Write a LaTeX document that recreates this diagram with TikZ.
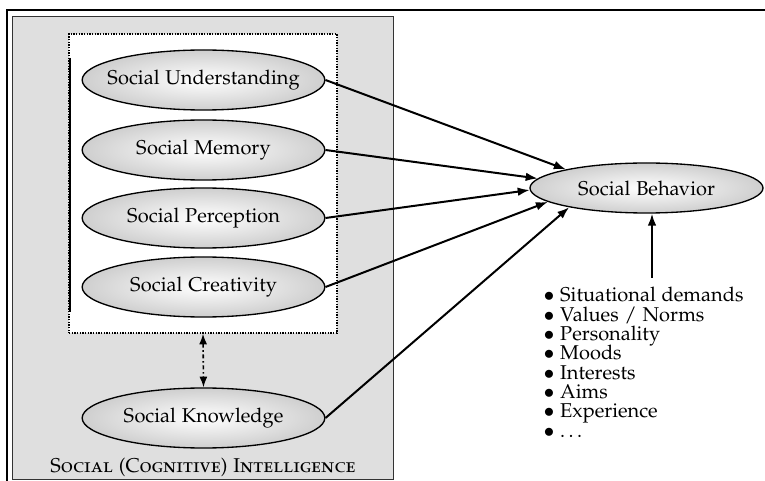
\documentclass[tikz,border=0pt]{standalone}
\usepackage[T1]{fontenc}
\usepackage[sc]{mathpazo}
\usetikzlibrary{shapes.geometric,arrows.meta}
\setlength{\lineskiplimit}{-10pt}

\tikzset{every picture/.style={line width=0.75pt}}
\tikzset{
  oval/.style={ellipse,draw,line width=1pt,inner sep=0pt,minimum width=182pt,minimum height=45pt,
    inner color=white,outer color=gray!38,label={[font=\fontsize{15}{17}\selectfont]center:#1}},
  arr/.style={-{Latex[length=9pt,width=6.5pt]},line width=1.5pt},
}

\begin{document}
\begin{tikzpicture}[x=0.75pt,y=0.75pt,yscale=-1,xscale=1]
		\useasboundingbox (0,0) rectangle (765,481);

		%outer frame
		\draw [line width=1.5pt]  (7,481) -- (7,10) -- (765,10) ;
		\node [draw=black!80,fill=gray!25,line width=0.75pt,minimum width=285.75pt,minimum height=346.5pt,inner sep=0pt] (frame) at (202.5,248) {};
		\node [draw,densely dotted,fill=white,line width=1pt,minimum width=201pt,minimum height=224.25pt,inner sep=0pt] (group) at (203,183.5) {};
		\draw [line width=1pt]  (70,58) -- (70,312) ;

		%intelligence components
		\node [oval={Social Understanding}] (und) at (203.5,80) {};
		\node [oval={Social Memory}] (mem) at (203.5,150) {};
		\node [oval={Social Perception}] (per) at (203.5,218) {};
		\node [oval={Social Creativity}] (cre) at (203.5,287) {};
		\node [oval={Social Knowledge}] (kno) at (203.5,418) {};
		\node [font=\fontsize{15}{17}\selectfont] (title) at (203,468) {\textsc{Social (Cognitive) Intelligence}};

		\node [oval={Social Behavior},minimum width=174.75pt,minimum height=37.5pt] (beh) at (646.5,188) {};

		\node [anchor=north west,inner sep=0pt,align=left,font=\fontsize{15}{14.5}\selectfont] (list) at (543,287) {%
			$\bullet$ Situational demands\\ $\bullet$ Values / Norms\\ $\bullet$ Personality\\ $\bullet$ Moods\\
			$\bullet$ Interests\\ $\bullet$ Aims\\ $\bullet$ Experience\\ $\bullet$ \dots};
		\coordinate (src) at (652,278);

		%connectors
		\draw [arr] (und.east) -- (beh.167) ;
		\draw [arr] (mem.east) -- (beh.175) ;
		\draw [arr] (per.east) -- (beh.181) ;
		\draw [arr] (cre.east) -- (beh.188) ;
		\draw [arr] (kno.east) -- (beh.194) ;
		\draw [arr] (src) -- (src |- beh.south) ;
		\draw [{Latex[length=8pt,width=6pt]}-{Latex[length=8pt,width=6pt]},line width=1.2pt,dash dot] (group.south) -- (kno.north) ;

\end{tikzpicture}
\end{document}
